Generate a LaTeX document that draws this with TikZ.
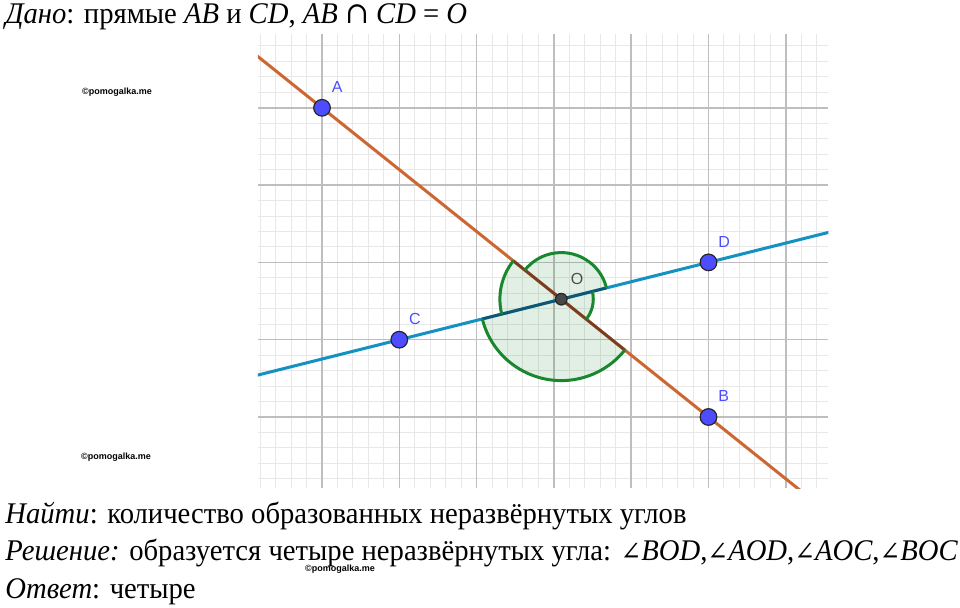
\documentclass[tikz,border=0pt]{standalone}
\usepackage{fontspec}
\setmainfont{Liberation Serif}[FakeStretch=0.955]
\newfontfamily\symfont{DejaVu Serif}[FakeStretch=0.955]
\newfontfamily\lblfont{Liberation Sans}
\usetikzlibrary{calc}
\definecolor{gridminor}{RGB}{232,232,232}
\definecolor{gridmajor}{RGB}{190,190,190}
\definecolor{lineorange}{RGB}{204,102,51}
\definecolor{lineblue}{RGB}{20,145,195}
\definecolor{ptblue}{RGB}{77,77,255}
\definecolor{anglegreen}{RGB}{25,135,45}
\newcommand{\mth}[1]{{\itshape #1}}
\newcommand{\ang}{{\symfont\fontsize{13}{13}\selectfont ∠}}
\tikzstyle{minorgrid} = [draw=gridminor, line width=0.5pt]
\tikzstyle{majorgrid} = [draw=gridmajor, line width=0.8pt]
\tikzstyle{lineab} = [draw=lineorange, line width=1.5pt]
\tikzstyle{linecd} = [draw=lineblue, line width=1.5pt]
\tikzstyle{point} = [circle, draw=black!85, fill=ptblue, line width=0.6pt,
    minimum size=8.3pt, inner sep=0pt]
\tikzstyle{originpt} = [point, fill=black!72, minimum size=5.8pt]
\tikzstyle{lbl} = [font=\lblfont\fontsize{8}{8}\selectfont, text=ptblue, inner sep=1pt]
\tikzstyle{sector} = [fill=anglegreen, fill opacity=0.13]
\tikzstyle{arcline} = [draw=anglegreen, line width=1.5pt]
\tikzstyle{shade} = [draw=black, opacity=0.4, line width=1.5pt]
\tikzstyle{wmark} = [font=\lblfont\bfseries\fontsize{4.5}{4.5}\selectfont, inner sep=0pt]
\tikzstyle{textline} = [anchor=base west, inner sep=0pt, font=\fontsize{15}{15}\selectfont]

\begin{document}
\begin{tikzpicture}[x=0.5pt, y=-0.5pt]
    \useasboundingbox (0,0) rectangle (960,608);
    % Text
    \node [textline] (given) at (5,24) {\textit{Дано}: прямые \mth{AB} и \mth{CD}, \mth{AB} {\symfont ∩} \mth{CD} = \mth{O}};
    \node [textline] (find) at (5,524) {\textit{Найти}: количество образованных неразвёрнутых углов};
    \node [textline] (solution) at (5,561) {\textit{Решение:} образуется четыре неразвёрнутых угла: \ang\mth{BOD},\ang\mth{AOD},\ang\mth{AOC},\ang\mth{BOC}};
    \node [textline] (answer) at (5,599) {\textit{Ответ}: четыре};
    \node [wmark] (wm1) at (117,92) {©pomogalka.me};
    \node [wmark] (wm2) at (116,457) {©pomogalka.me};
    \node [wmark] (wm3) at (340,569) {©pomogalka.me};
    \begin{scope}[shift={(322,417)}, x=38.65pt, y=38.65pt]
        % Grid
        \foreach \i in {-4,...,32}
            \draw [minorgrid] (\i/5,-0.92) -- (\i/5,4.95);
        \foreach \j in {-4,...,24}
            \draw [minorgrid] (-0.83,\j/5) -- (6.55,\j/5);
        \foreach \i in {0,...,6}
            \draw [majorgrid] (\i,-0.92) -- (\i,4.95);
        \foreach \j in {0,...,4}
            \draw [majorgrid] (-0.83,\j) -- (6.55,\j);
        % Place points
        \coordinate (A) at (0,4);
        \coordinate (B) at (5,0);
        \coordinate (C) at (1,1);
        \coordinate (D) at (5,2);
        \coordinate (O) at (intersection of A--B and C--D);
        % Angles
        \foreach \s/\e/\r in {-38.66/14.04/0.414, 14.04/141.34/0.603, 141.34/194.04/0.794, 194.04/321.34/1.053}
            \fill [sector] (O) -- ++(\s:\r) arc [start angle=\s, end angle=\e, radius=\r] -- cycle;
        % Lines
        \begin{scope}
            \clip (-0.83,-0.92) rectangle (6.55,4.95);
            \draw [lineab] ($(A)!-1!(B)$) -- ($(B)!-1!(A)$);
            \draw [linecd] ($(C)!-1!(D)$) -- ($(D)!-2!(C)$);
        \end{scope}
        \draw [shade] (O) -- ($(O)!30.7pt!(A)$);
        \draw [shade] (O) -- ($(O)!40.7pt!(B)$);
        \draw [shade] (O) -- ($(O)!40.7pt!(C)$);
        \draw [shade] (O) -- ($(O)!23.3pt!(D)$);
        \foreach \s/\e/\r in {-38.66/14.04/0.414, 14.04/141.34/0.603, 141.34/194.04/0.794, 194.04/321.34/1.053}
            \draw [arcline] (O) ++(\s:\r) arc [start angle=\s, end angle=\e, radius=\r];
        % Point nodes
        \node [point, label={[lbl, label distance=3pt]60:A}] (ptA) at (A) {};
        \node [point, label={[lbl, label distance=3pt]60:B}] (ptB) at (B) {};
        \node [point, label={[lbl, label distance=3pt]60:C}] (ptC) at (C) {};
        \node [point, label={[lbl, label distance=3pt]60:D}] (ptD) at (D) {};
        \node [originpt, label={[lbl, text=black!70, label distance=4pt]60:O}] (ptO) at (O) {};
    \end{scope}
\end{tikzpicture}
\end{document}
